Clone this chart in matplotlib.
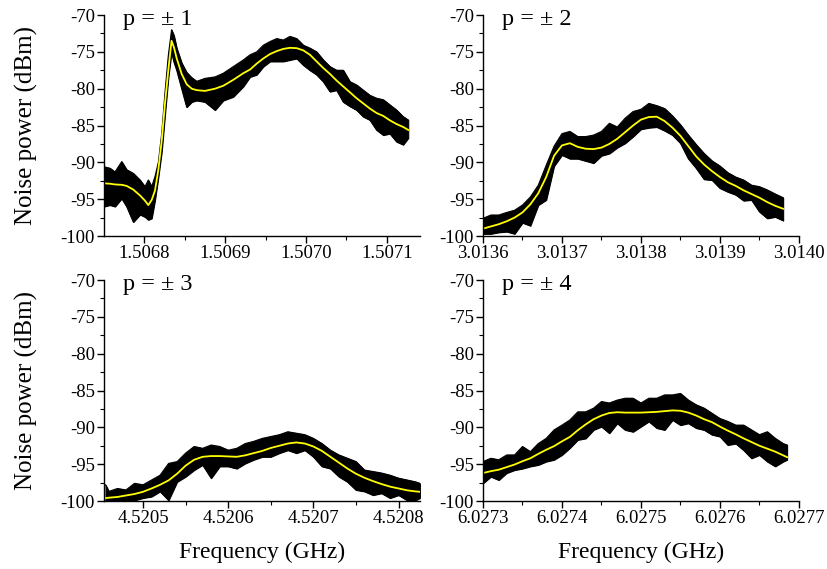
import matplotlib
matplotlib.use('Agg')
import matplotlib.pyplot as plt
from matplotlib.ticker import MultipleLocator, FormatStrFormatter

plt.rcParams['font.family'] = ['Liberation Serif', 'DejaVu Serif']
plt.rcParams['axes.unicode_minus'] = False

# ---- panel p = +-1 ----
p1_freq = [1.5067506, 1.5067580, 1.5067642, 1.5067725, 1.5067786, 1.5067868, 1.5067951,
           1.5068012, 1.5068053, 1.5068095, 1.5068136, 1.5068177, 1.5068219, 1.5068259,
           1.5068300, 1.5068340, 1.5068370, 1.5068404, 1.5068465, 1.5068527, 1.5068589,
           1.5068651, 1.5068753, 1.5068877, 1.5068979, 1.5069102, 1.5069226, 1.5069309,
           1.5069391, 1.5069473, 1.5069556, 1.5069638, 1.5069720, 1.5069802, 1.5069885,
           1.5069967, 1.5070049, 1.5070131, 1.5070214, 1.5070296, 1.5070378, 1.5070460,
           1.5070543, 1.5070625, 1.5070707, 1.5070789, 1.5070871, 1.5070954, 1.5071036,
           1.5071118, 1.5071200, 1.5071262]
p1_fit = [-92.85, -92.9, -93.0, -93.05, -93.2, -93.7, -94.5, -95.2, -95.8, -95.1, -93.8,
          -91.0, -87.0, -82.0, -77.5, -73.5, -74.4, -75.9, -78.0, -79.4, -80.0, -80.2,
          -80.3, -80.0, -79.6, -78.8, -77.9, -77.4, -76.6, -75.9, -75.3, -74.9, -74.6,
          -74.45, -74.5, -74.8, -75.4, -76.3, -77.2, -78.0, -78.9, -79.7, -80.5, -81.3,
          -82.0, -82.7, -83.3, -83.7, -84.3, -84.8, -85.2, -85.6]
p1_upper = [-90.6, -90.8, -91.3, -89.9, -91.0, -91.5, -92.4, -93.3, -92.4, -93.3, -91.9,
            -90.0, -86.0, -80.5, -75.5, -72.0, -72.8, -74.5, -76.5, -77.8, -78.5, -79.0,
            -78.6, -78.4, -77.9, -77.0, -76.1, -75.4, -75.0, -74.1, -73.6, -73.2, -73.4,
            -72.9, -73.2, -74.1, -74.5, -75.0, -76.1, -77.0, -77.5, -77.5, -79.05, -79.5,
            -80.2, -80.9, -81.3, -81.5, -82.2, -82.9, -83.8, -84.25]
p1_lower = [-96.0, -95.8, -96.0, -94.9, -96.0, -98.1, -97.1, -97.4, -97.8, -97.6, -95.1,
            -92.0, -88.5, -83.5, -78.5, -75.0, -76.4, -77.5, -80.0, -82.5, -81.8, -81.6,
            -81.8, -82.9, -81.6, -81.1, -79.7, -78.4, -78.1, -77.0, -76.3, -76.3, -76.3,
            -76.1, -75.9, -76.8, -77.5, -78.1, -79.05, -80.4, -80.2, -81.8, -82.4, -82.9,
            -83.8, -84.25, -85.6, -86.3, -86.1, -87.2, -87.6, -86.7]

# ---- panel p = +-2 ----
p2_freq = [3.01360, 3.01361, 3.01362, 3.01363, 3.01364, 3.01365, 3.01366, 3.01367,
           3.01368, 3.01369, 3.01370, 3.01371, 3.01372, 3.01373, 3.01374, 3.01375,
           3.01376, 3.01377, 3.01378, 3.01379, 3.01380, 3.01381, 3.01382, 3.01383,
           3.01384, 3.01385, 3.01386, 3.01387, 3.01388, 3.01389, 3.01390, 3.01391,
           3.01392, 3.01393, 3.01394, 3.01395, 3.01396, 3.01397, 3.01398]
p2_fit = [-99.0, -98.7, -98.4, -98.0, -97.5, -96.8, -95.7, -94.2, -92.0, -89.1, -87.7,
          -87.4, -87.9, -88.15, -88.2, -88.0, -87.5, -86.8, -85.9, -85.0, -84.2, -83.85,
          -83.8, -84.4, -85.3, -86.4, -87.8, -89.2, -90.3, -91.2, -92.0, -92.7, -93.2,
          -93.8, -94.3, -94.8, -95.4, -95.9, -96.3]
p2_upper = [-97.6, -97.15, -97.15, -96.8, -96.5, -95.8, -94.7, -93.1, -90.4, -87.8, -86.1,
            -85.8, -86.5, -86.5, -86.3, -85.8, -84.7, -85.2, -84.0, -83.1, -82.8, -82.0,
            -82.3, -82.7, -83.7, -84.9, -86.3, -87.6, -88.8, -89.8, -90.5, -91.4, -92.0,
            -92.4, -93.1, -93.3, -93.75, -94.3, -94.8]
p2_lower = [-99.7, -99.7, -99.5, -99.4, -99.7, -98.2, -98.6, -95.8, -95.1, -90.5, -89.0,
            -89.5, -89.5, -89.8, -90.1, -89.1, -88.8, -88.0, -87.4, -86.5, -85.5, -85.3,
            -85.2, -85.7, -86.3, -87.4, -89.5, -90.8, -92.3, -92.4, -93.5, -94.0, -94.4,
            -95.2, -95.1, -96.7, -97.6, -97.4, -97.9]

# ---- panel p = +-3 ----
p3_freq = [4.520456, 4.52046, 4.52047, 4.52048, 4.52049, 4.52050, 4.52051, 4.52052,
           4.52053, 4.52054, 4.52055, 4.52056, 4.52057, 4.52058, 4.52059, 4.52060,
           4.52061, 4.52062, 4.52063, 4.52064, 4.52065, 4.52066, 4.52067, 4.52068,
           4.52069, 4.52070, 4.52071, 4.52072, 4.52073, 4.52074, 4.52075, 4.52076,
           4.52077, 4.52078, 4.52079, 4.52080, 4.52081, 4.52082, 4.520825]
p3_fit = [-99.6, -99.55, -99.45, -99.25, -99.05, -98.75, -98.3, -97.8, -97.2, -96.3, -95.2,
          -94.4, -94.0, -93.9, -93.9, -93.95, -94.0, -93.8, -93.5, -93.2, -92.8, -92.5,
          -92.2, -92.05, -92.2, -92.6, -93.2, -94.0, -94.8, -95.6, -96.3, -96.85, -97.3,
          -97.7, -98.05, -98.3, -98.55, -98.7, -98.75]
p3_upper = [-97.8, -98.7, -98.3, -98.5, -97.6, -97.8, -97.15, -96.5, -94.9, -94.65, -93.5,
            -92.6, -92.85, -92.4, -92.6, -93.1, -92.85, -92.2, -91.9, -91.5, -91.25, -91.0,
            -90.6, -90.8, -91.0, -91.5, -92.2, -93.1, -93.75, -94.2, -94.65, -95.8, -96.0,
            -96.2, -96.5, -96.9, -97.15, -97.4, -97.6]
p3_lower = [-100.0, -100.0, -99.9, -99.9, -99.9, -99.6, -99.4, -98.7, -99.9, -97.4, -96.7,
            -95.8, -95.1, -96.9, -95.3, -95.3, -95.6, -94.9, -94.4, -94.0, -94.0, -93.5,
            -93.1, -93.5, -93.1, -94.0, -95.3, -95.6, -96.7, -97.4, -98.5, -98.7, -99.2,
            -98.95, -99.6, -99.2, -99.9, -99.9, -99.6]

# ---- panel p = +-4 ----
p4_freq = [6.02730, 6.02731, 6.02732, 6.02733, 6.02734, 6.02735, 6.02736, 6.02737,
           6.02738, 6.02739, 6.02740, 6.02741, 6.02742, 6.02743, 6.02744, 6.02745,
           6.02746, 6.02747, 6.02748, 6.02749, 6.02750, 6.02751, 6.02752, 6.02753,
           6.02754, 6.02755, 6.02756, 6.02757, 6.02758, 6.02759, 6.02760, 6.02761,
           6.02762, 6.02763, 6.02764, 6.02765, 6.02766, 6.02767, 6.02768, 6.027685]
p4_fit = [-96.2, -95.95, -95.75, -95.4, -95.05, -94.6, -94.2, -93.6, -93.05, -92.55, -91.9,
          -91.3, -90.4, -89.6, -88.9, -88.4, -88.05, -87.95, -88.0, -88.0, -88.0, -87.95,
          -87.9, -87.8, -87.7, -87.75, -88.0, -88.4, -88.9, -89.3, -89.9, -90.45, -90.95,
          -91.5, -92.0, -92.5, -92.9, -93.3, -93.8, -94.05]
p4_upper = [-94.65, -94.2, -94.4, -93.75, -93.75, -92.6, -93.3, -92.2, -91.5, -90.35, -89.7,
            -89.0, -87.9, -87.9, -87.4, -86.5, -86.7, -86.3, -86.05, -86.05, -86.7, -86.05,
            -86.05, -85.6, -85.6, -85.4, -86.3, -86.95, -87.4, -88.1, -88.8, -89.2, -89.7,
            -89.7, -90.35, -91.0, -90.6, -91.5, -92.2, -92.4]
p4_lower = [-97.6, -96.7, -97.15, -96.2, -95.8, -95.6, -95.3, -95.1, -94.65, -94.4, -93.75,
            -92.8, -91.7, -91.5, -90.35, -89.9, -90.8, -89.45, -90.35, -90.6, -89.9, -89.2,
            -90.1, -90.35, -89.0, -89.7, -89.45, -90.1, -90.35, -91.0, -91.25, -92.4, -92.2,
            -93.1, -94.2, -93.75, -94.65, -95.3, -94.65, -94.4]

panels = [
    ('p = \u00b1 1', p1_freq, p1_fit, p1_upper, p1_lower, (1.5067506, 1.5071407)),
    ('p = \u00b1 2', p2_freq, p2_fit, p2_upper, p2_lower, (3.0136, 3.0140)),
    ('p = \u00b1 3', p3_freq, p3_fit, p3_upper, p3_lower, (4.5204542, 4.5208251)),
    ('p = \u00b1 4', p4_freq, p4_fit, p4_upper, p4_lower, (6.0273, 6.0277)),
]
# axes rectangles (figure fraction)
rects = [
    [0.1256, 0.5852, 0.3816, 0.3884],
    [0.5833, 0.5852, 0.3816, 0.3884],
    [0.1256, 0.1195, 0.3816, 0.3884],
    [0.5833, 0.1195, 0.3816, 0.3884],
]

fig = plt.figure(figsize=(8.28, 5.69), dpi=100)

for i, (label, freq, fit, upper, lower, xlim) in enumerate(panels):
    ax = fig.add_axes(rects[i])
    # measured noise trace, drawn as its envelope
    ax.fill_between(freq, lower, upper, color='black', lw=0.8)
    ax.plot(freq, upper, color='black', lw=0.8)
    ax.plot(freq, lower, color='black', lw=0.8)
    # fitted curve
    ax.plot(freq, fit, color='#ffff00', lw=1.3)

    ax.set_xlim(*xlim)
    ax.set_ylim(-100, -70)
    ax.spines['top'].set_visible(False)
    ax.spines['right'].set_visible(False)
    for s in ('left', 'bottom'):
        ax.spines[s].set_linewidth(1.0)

    ax.yaxis.set_major_locator(MultipleLocator(5))
    ax.yaxis.set_minor_locator(MultipleLocator(2.5))
    ax.xaxis.set_major_locator(MultipleLocator(0.0001))
    ax.xaxis.set_minor_locator(MultipleLocator(0.00005))
    ax.xaxis.set_major_formatter(FormatStrFormatter('%.4f'))
    ax.yaxis.set_major_formatter(FormatStrFormatter('%d'))
    ax.tick_params(which='major', direction='out', length=5, width=1.0, labelsize=13.5, pad=1.5)
    ax.tick_params(which='minor', direction='out', length=3, width=0.8)

    ax.text(0.06, 0.955, label, transform=ax.transAxes, fontsize=17.5, va='baseline')

    if i % 2 == 0:
        ax.set_ylabel('Noise power (dBm)', fontsize=18, labelpad=16)
    if i >= 2:
        ax.set_xlabel('Frequency (GHz)', fontsize=17, labelpad=11)

fig.savefig('out.png', dpi=100)
